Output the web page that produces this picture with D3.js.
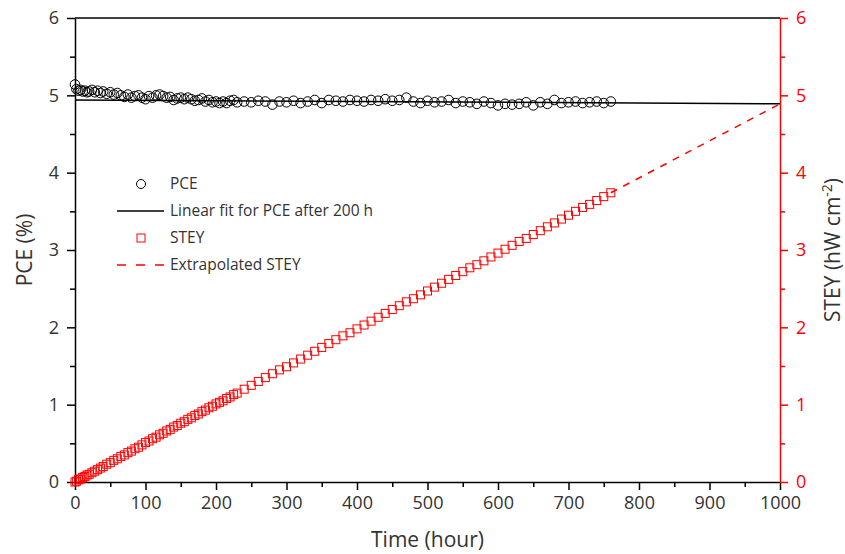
<!DOCTYPE html>
<html>
<head>
<meta charset="utf-8">
<script src="https://cdn.jsdelivr.net/npm/d3@7"></script>
<style>
  body { margin: 0; background: #fff; }
  svg { font-family: "Open Sans", sans-serif; }
</style>
</head>
<body>
<div id="chart"></div>
<script>
// time points (hour)
const hours = [0, 2, 5, 8, 11, 14, 17, 20, 24, 28, 32, 36, 40, 45, 50, 55, 60, 65, 70, 75,
  80, 85, 90, 95, 100, 105, 110, 115, 120, 125, 130, 135, 140, 145, 150, 155, 160, 165, 170, 175,
  180, 185, 190, 195, 200, 205, 210, 215, 220, 225, 230, 240, 250, 260, 270, 280, 290, 300, 310, 320,
  330, 340, 350, 360, 370, 380, 390, 400, 410, 420, 430, 440, 450, 460, 470, 480, 490, 500, 510, 520,
  530, 540, 550, 560, 570, 580, 590, 600, 610, 620, 630, 640, 650, 660, 670, 680, 690, 700, 710, 720,
  730, 740, 750, 760];

// PCE (%)
const pce = [5.14, 5.08, 5.06, 5.07, 5.05, 5.06, 5.04, 5.05, 5.07, 5.04, 5.06, 5.03, 5.05, 5.02, 5.04, 5.01, 5.03, 5.00, 4.98, 5.01,
  4.97, 4.99, 5.00, 4.97, 4.95, 4.99, 4.97, 5.00, 5.01, 4.99, 4.97, 4.98, 4.94, 4.96, 4.97, 4.95, 4.97, 4.95, 4.93, 4.94,
  4.96, 4.92, 4.94, 4.91, 4.92, 4.90, 4.92, 4.90, 4.93, 4.94, 4.91, 4.92, 4.91, 4.93, 4.92, 4.88, 4.92, 4.91, 4.93, 4.90,
  4.92, 4.94, 4.90, 4.94, 4.93, 4.92, 4.94, 4.93, 4.92, 4.94, 4.93, 4.95, 4.93, 4.94, 4.97, 4.92, 4.90, 4.93, 4.91, 4.92,
  4.94, 4.90, 4.92, 4.91, 4.89, 4.92, 4.90, 4.87, 4.89, 4.88, 4.89, 4.91, 4.87, 4.91, 4.89, 4.94, 4.90, 4.91, 4.92, 4.90,
  4.91, 4.92, 4.90, 4.92];

// STEY (hW cm^-2)
const stey = [0.00, 0.01, 0.03, 0.04, 0.06, 0.07, 0.09, 0.10, 0.12, 0.14, 0.16, 0.18, 0.20, 0.23, 0.25, 0.28, 0.30, 0.33, 0.35, 0.38,
  0.40, 0.43, 0.45, 0.48, 0.51, 0.53, 0.56, 0.58, 0.61, 0.63, 0.66, 0.68, 0.71, 0.73, 0.76, 0.78, 0.81, 0.83, 0.86, 0.88,
  0.91, 0.93, 0.96, 0.98, 1.01, 1.03, 1.05, 1.08, 1.10, 1.13, 1.15, 1.20, 1.25, 1.30, 1.35, 1.40, 1.45, 1.49, 1.54, 1.59,
  1.64, 1.69, 1.74, 1.79, 1.84, 1.89, 1.93, 1.98, 2.03, 2.08, 2.13, 2.18, 2.23, 2.28, 2.33, 2.37, 2.42, 2.47, 2.52, 2.57,
  2.62, 2.67, 2.72, 2.77, 2.81, 2.86, 2.91, 2.96, 3.01, 3.06, 3.11, 3.15, 3.20, 3.25, 3.30, 3.35, 3.40, 3.45, 3.50, 3.55,
  3.59, 3.64, 3.69, 3.74];

// linear fit for PCE after 200 h
const fitHours = [0, 1000];
const fitPce = [4.94, 4.89];

// extrapolated STEY
const extHours = [760, 1000];
const extStey = [3.74, 4.89];

const xTicks = [0, 100, 200, 300, 400, 500, 600, 700, 800, 900, 1000];
const yTicks = [0, 1, 2, 3, 4, 5, 6];

const legendItems = ["PCE", "Linear fit for PCE after 200 h", "STEY", "Extrapolated STEY"];

const WIDTH = 845, HEIGHT = 554;
const margin = {top: 18, right: 65, bottom: 72, left: 75};
const RED = "#ff0000";
const TXT = "#333333";
const fmt = d3.format("d");

const svg = d3.select("#chart").append("svg")
  .attr("width", WIDTH).attr("height", HEIGHT);

const x = d3.scaleLinear().domain([0, 1000]).range([margin.left, WIDTH - margin.right]);
const yL = d3.scaleLinear().domain([0, 6]).range([HEIGHT - margin.bottom, margin.top]);
const yR = d3.scaleLinear().domain([0, 6]).range([HEIGHT - margin.bottom, margin.top]);

// minor ticks
const minorX = d3.range(50, 1000, 100);
const minorY = d3.range(0.5, 6, 1);

svg.append("g")
  .attr("transform", `translate(0,${HEIGHT - margin.bottom})`)
  .call(d3.axisBottom(x).tickValues(minorX).tickSize(5).tickFormat(""))
  .call(g => g.select(".domain").remove())
  .selectAll("line").attr("stroke", "#000").attr("stroke-width", 1.5);

svg.append("g")
  .attr("transform", `translate(${margin.left},0)`)
  .call(d3.axisLeft(yL).tickValues(minorY).tickSize(5).tickFormat(""))
  .call(g => g.select(".domain").remove())
  .selectAll("line").attr("stroke", "#000").attr("stroke-width", 1.5);

svg.append("g")
  .attr("transform", `translate(${WIDTH - margin.right},0)`)
  .call(d3.axisRight(yR).tickValues(minorY).tickSize(5).tickFormat(""))
  .call(g => g.select(".domain").remove())
  .selectAll("line").attr("stroke", RED).attr("stroke-width", 1.5);

// top frame
svg.append("line")
  .attr("x1", margin.left).attr("x2", WIDTH - margin.right)
  .attr("y1", margin.top).attr("y2", margin.top)
  .attr("stroke", "#000").attr("stroke-width", 1.5);

// bottom axis
const xAxis = svg.append("g")
  .attr("transform", `translate(0,${HEIGHT - margin.bottom})`)
  .call(d3.axisBottom(x).tickValues(xTicks).tickFormat(fmt).tickSize(8).tickSizeOuter(0).tickPadding(6));
xAxis.select(".domain").attr("stroke", "#000").attr("stroke-width", 1.5);
xAxis.selectAll("line").attr("stroke", "#000").attr("stroke-width", 1.5);
xAxis.selectAll("text").attr("fill", TXT).style("font-size", "18px").style("font-family", "Open Sans");

// left axis
const yAxisL = svg.append("g")
  .attr("transform", `translate(${margin.left},0)`)
  .call(d3.axisLeft(yL).tickValues(yTicks).tickFormat(fmt).tickSize(8).tickSizeOuter(0).tickPadding(8));
yAxisL.select(".domain").attr("stroke", "#000").attr("stroke-width", 1.5);
yAxisL.selectAll("line").attr("stroke", "#000").attr("stroke-width", 1.5);
yAxisL.selectAll("text").attr("fill", TXT).style("font-size", "18px").style("font-family", "Open Sans");

// right axis
const yAxisR = svg.append("g")
  .attr("transform", `translate(${WIDTH - margin.right},0)`)
  .call(d3.axisRight(yR).tickValues(yTicks).tickFormat(fmt).tickSize(8).tickSizeOuter(0).tickPadding(8));
yAxisR.select(".domain").attr("stroke", RED).attr("stroke-width", 1.5);
yAxisR.selectAll("line").attr("stroke", RED).attr("stroke-width", 1.5);
yAxisR.selectAll("text").attr("fill", RED).style("font-size", "18px").style("font-family", "Open Sans");

// axis titles
svg.append("text")
  .attr("x", (margin.left + WIDTH - margin.right) / 2).attr("y", 547)
  .attr("text-anchor", "middle").attr("fill", TXT)
  .style("font-size", "21px")
  .text("Time (hour)");

svg.append("text")
  .attr("transform", `translate(32,${(margin.top + HEIGHT - margin.bottom) / 2}) rotate(-90)`)
  .attr("text-anchor", "middle").attr("fill", TXT)
  .style("font-size", "21px")
  .text("PCE (%)");

const rt = svg.append("text")
  .attr("transform", `translate(840,${(margin.top + HEIGHT - margin.bottom) / 2}) rotate(-90)`)
  .attr("text-anchor", "middle").attr("fill", TXT)
  .style("font-size", "21px");
rt.append("tspan").text("STEY (hW cm");
rt.append("tspan").attr("dy", -8).style("font-size", "14px").text("-2");
rt.append("tspan").attr("dy", 8).text(")");

// fit line
const line = d3.line();
svg.append("path")
  .attr("d", line(fitHours.map((h, i) => [x(h), yL(fitPce[i])])))
  .attr("fill", "none").attr("stroke", "#000").attr("stroke-width", 1.5);

// extrapolated STEY
svg.append("path")
  .attr("d", line(extHours.map((h, i) => [x(h), yR(extStey[i])])))
  .attr("fill", "none").attr("stroke", RED).attr("stroke-width", 1.5)
  .attr("stroke-dasharray", "7,7");

// PCE circles
svg.append("g").selectAll("circle")
  .data(hours)
  .join("circle")
  .attr("cx", d => x(d))
  .attr("cy", (d, i) => yL(pce[i]))
  .attr("r", 4.8)
  .attr("fill", "none").attr("stroke", "#000").attr("stroke-width", 1);

// STEY squares
svg.append("g").selectAll("rect")
  .data(hours)
  .join("rect")
  .attr("x", d => x(d) - 4)
  .attr("y", (d, i) => yR(stey[i]) - 4)
  .attr("width", 8).attr("height", 8)
  .attr("fill", "none").attr("stroke", RED).attr("stroke-width", 1);

// legend
const lg = svg.append("g").style("font-size", "15.5px");
const lgY = [184, 211, 238, 265];
legendItems.forEach((name, i) => {
  const g = lg.append("g").attr("transform", `translate(0,${lgY[i]})`);
  if (i === 0) {
    g.append("circle").attr("cx", 141).attr("r", 4.5)
      .attr("fill", "none").attr("stroke", "#000");
  } else if (i === 1) {
    g.append("line").attr("x1", 117).attr("x2", 164)
      .attr("stroke", "#000").attr("stroke-width", 1.5);
  } else if (i === 2) {
    g.append("rect").attr("x", 137).attr("y", -4).attr("width", 8).attr("height", 8)
      .attr("fill", "none").attr("stroke", RED);
  } else {
    g.append("line").attr("x1", 117).attr("x2", 164)
      .attr("stroke", RED).attr("stroke-width", 1.5).attr("stroke-dasharray", "9,10");
  }
  g.append("text").attr("x", 170).attr("dy", "0.35em")
    .attr("fill", TXT).text(name);
});
</script>
</body>
</html>
